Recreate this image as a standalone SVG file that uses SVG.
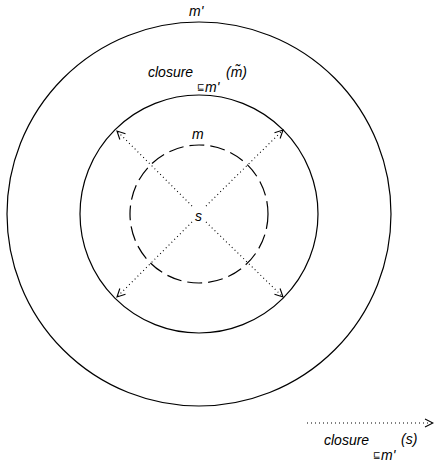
<svg xmlns="http://www.w3.org/2000/svg" width="435" height="465" viewBox="0 0 435 465">
<style>
.c{fill:none;stroke:#000;stroke-width:1.2}
.d{fill:none;stroke:#000;stroke-width:1.2;stroke-dasharray:15 6}
.a{fill:none;stroke:#000;stroke-width:1.1;stroke-dasharray:1 3}
text{font-family:"Liberation Sans",Arial,sans-serif;font-style:italic;font-size:14px;fill:#000}
.q{font-size:9px;font-style:normal}
</style>
<defs>
<marker id="ah" markerWidth="10" markerHeight="10" refX="9" refY="5" orient="auto" markerUnits="userSpaceOnUse">
<path d="M1,1 L9,5 L1,9" fill="none" stroke="#000" stroke-width="1.1"/>
</marker>
</defs>
<g id="outer">
<circle class="c" cx="199" cy="214" r="192"/>
<text x="189" y="16">m'</text>
</g>
<g id="closure-m">
<circle class="c" cx="199" cy="214" r="119"/>
<text x="148" y="77">closure</text>
<text class="q" x="197" y="90">⊑</text>
<text x="205" y="92">m'</text>
<text x="226" y="77">(m&#x303;)</text>
</g>
<g id="m">
<circle class="d" cx="199" cy="214" r="69"/>
<text x="192" y="139">m</text>
</g>
<g id="s">
<text x="195" y="221">s</text>
</g>
<g id="connectors">
<line class="a" x1="192" y1="206" x2="117" y2="131" marker-end="url(#ah)"/>
<line class="a" x1="206" y1="206" x2="283" y2="130" marker-end="url(#ah)"/>
<line class="a" x1="206" y1="222" x2="283" y2="297" marker-end="url(#ah)"/>
<line class="a" x1="192" y1="222" x2="117" y2="297" marker-end="url(#ah)"/>
<line class="a" x1="307" y1="423" x2="433" y2="423" marker-end="url(#ah)"/>
</g>
<g id="legend">
<text x="324" y="445">closure</text>
<text class="q" x="373" y="458">⊑</text>
<text x="381" y="460">m'</text>
<text x="401" y="444">(s)</text>
</g>
</svg>
